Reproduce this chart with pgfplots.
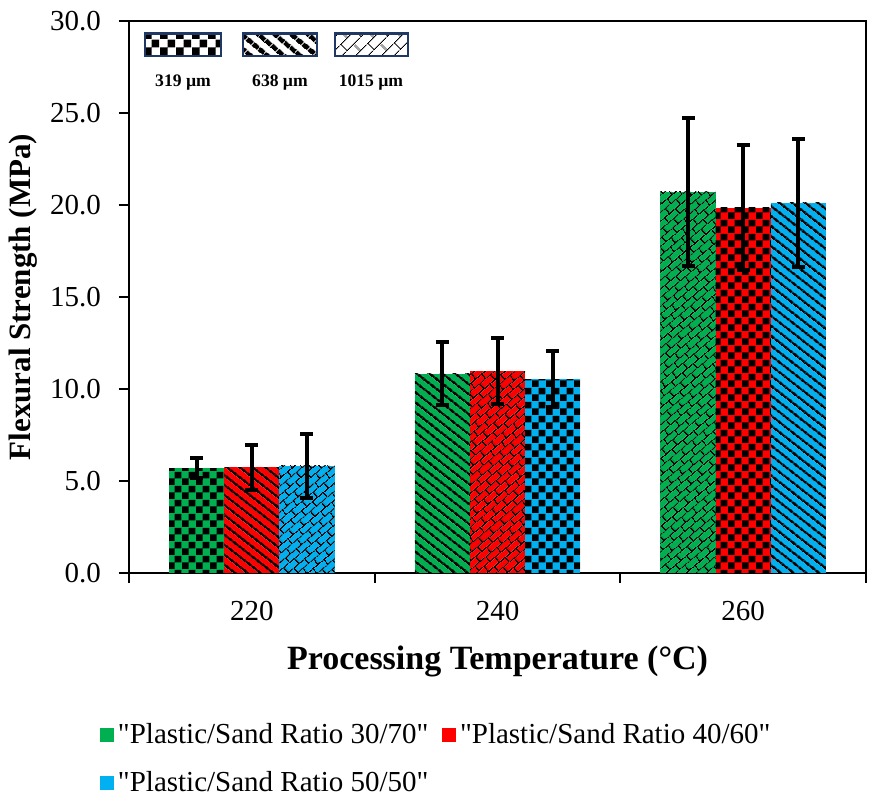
\documentclass[border=0pt]{standalone}
\usepackage{fontspec}
\setmainfont{Liberation Serif}
\usepackage{pgfplots}
\pgfplotsset{compat=1.18}
\usetikzlibrary{patterns.meta}

\definecolor{cg}{HTML}{00B050}
\definecolor{cr}{HTML}{FF0000}
\definecolor{cb}{HTML}{00B0F0}
\definecolor{navy}{HTML}{1F3864}

% bar patterns
\pgfdeclarepattern{name=chk, type=uncolored,
  bottom left={\pgfpoint{0pt}{0pt}}, top right={\pgfpoint{7pt}{7pt}},
  tile size={\pgfpoint{7pt}{7pt}},
  code={\pgfpathrectangle{\pgfpoint{0pt}{0pt}}{\pgfpoint{3.5pt}{3.5pt}}%
        \pgfpathrectangle{\pgfpoint{3.5pt}{3.5pt}}{\pgfpoint{3.5pt}{3.5pt}}%
        \pgfusepath{fill}}}
\pgfdeclarepattern{name=stp, type=uncolored,
  bottom left={\pgfpoint{0pt}{0pt}}, top right={\pgfpoint{4pt}{4pt}},
  tile size={\pgfpoint{4pt}{4pt}},
  tile transformation={\pgftransformrotate{-38}},
  code={\pgfpathrectangle{\pgfpoint{0pt}{0pt}}{\pgfpoint{4pt}{1.5pt}}%
        \pgfusepath{fill}}}
\pgfdeclarepattern{name=brk, type=uncolored,
  bottom left={\pgfpoint{0pt}{0pt}}, top right={\pgfpoint{7pt}{6.4pt}},
  tile size={\pgfpoint{7pt}{6.4pt}},
  tile transformation={\pgftransformrotate{40}},
  code={\pgfpathrectangle{\pgfpoint{0pt}{0pt}}{\pgfpoint{7pt}{0.65pt}}%
        \pgfpathrectangle{\pgfpoint{0pt}{3.2pt}}{\pgfpoint{7pt}{0.65pt}}%
        \pgfpathrectangle{\pgfpoint{0pt}{0pt}}{\pgfpoint{0.65pt}{3.2pt}}%
        \pgfpathrectangle{\pgfpoint{3.5pt}{3.2pt}}{\pgfpoint{0.65pt}{3.2pt}}%
        \pgfusepath{fill}}}
% legend-box patterns (larger)
\pgfdeclarepattern{name=chkL, type=uncolored,
  bottom left={\pgfpoint{0pt}{0pt}}, top right={\pgfpoint{8pt}{8pt}},
  tile size={\pgfpoint{8pt}{8pt}},
  code={\pgfpathrectangle{\pgfpoint{0pt}{0pt}}{\pgfpoint{4pt}{4pt}}%
        \pgfpathrectangle{\pgfpoint{4pt}{4pt}}{\pgfpoint{4pt}{4pt}}%
        \pgfusepath{fill}}}
\pgfdeclarepattern{name=stpL, type=uncolored,
  bottom left={\pgfpoint{0pt}{0pt}}, top right={\pgfpoint{4pt}{5.4pt}},
  tile size={\pgfpoint{4pt}{5.4pt}},
  tile transformation={\pgftransformrotate{-40}},
  code={\pgfpathrectangle{\pgfpoint{0pt}{0pt}}{\pgfpoint{4pt}{2.6pt}}%
        \pgfusepath{fill}}}
\pgfdeclarepattern{name=brkL, type=uncolored,
  bottom left={\pgfpoint{0pt}{0pt}}, top right={\pgfpoint{10pt}{9pt}},
  tile size={\pgfpoint{10pt}{9pt}},
  tile transformation={\pgftransformrotate{45}},
  code={\pgfpathrectangle{\pgfpoint{0pt}{0pt}}{\pgfpoint{10pt}{0.5pt}}%
        \pgfpathrectangle{\pgfpoint{0pt}{4.5pt}}{\pgfpoint{10pt}{0.5pt}}%
        \pgfpathrectangle{\pgfpoint{0pt}{0pt}}{\pgfpoint{0.5pt}{4.5pt}}%
        \pgfpathrectangle{\pgfpoint{5pt}{4.5pt}}{\pgfpoint{0.5pt}{4.5pt}}%
        \pgfusepath{fill}}}

\pgfplotsset{
  mybar/.style 2 args={ybar, forget plot, bar width=0.2245, bar shift=0,
    draw=none, fill=#1, postaction={pattern=#2, pattern color=black},
    /pgfplots/error bars/y dir=both, /pgfplots/error bars/y explicit,
    /pgfplots/error bars/error bar style={line width=2pt, black},
    /pgfplots/error bars/error mark options={line width=2pt, black, mark size=3.25pt, rotate=90}},
}

\newcommand{\lbox}[3]{%
  \fill[white] (rel axis cs:#1,0.9366) rectangle (rel axis cs:#2,0.978);
  \path[pattern=#3, pattern color=black] (rel axis cs:#1,0.9366) rectangle (rel axis cs:#2,0.978);
  \draw[navy, line width=1.4pt] (rel axis cs:#1,0.9366) rectangle (rel axis cs:#2,0.978);
}

\begin{document}
\begin{tikzpicture}
\path[use as bounding box] (-64.5pt,-117pt) rectangle (374pt,286.5pt);
\begin{axis}[
  at={(0pt,0pt)}, anchor=south west,
  scale only axis, width=368.5pt, height=276pt,
  xmin=-0.5, xmax=2.5, ymin=0, ymax=30,
  xtick={-0.5,0.5,1.5,2.5}, x tick label as interval, xticklabels={220,240,260},
  ytick={0,5,10,15,20,25,30},
  tick align=outside, xtick pos=bottom, ytick pos=left,
  major tick length=5pt,
  axis line style={line width=1.1pt},
  every tick/.style={line width=1.1pt, black},
  yticklabel style={xshift=-5.5pt, /pgf/number format/.cd, fixed, fixed zerofill, precision=1},
  xticklabel style={yshift=-5.5pt},
  /pgf/number format/assume math mode=true,
  tick label style={font=\fontsize{14.5}{17}\selectfont},
  xlabel={Processing Temperature (°C)},
  ylabel={Flexural Strength (MPa)},
  every axis x label/.style={at={(rel axis cs:0.5,0)}, yshift=-44pt, anchor=center,
     font=\bfseries\fontsize{17}{19}\selectfont},
  every axis y label/.style={at={(rel axis cs:0,0.5)}, xshift=-53pt, rotate=90, anchor=center,
     font=\bfseries\fontsize{15.5}{18}\selectfont},
  legend style={at={(rel axis cs:0,0)}, anchor=north west, xshift=-17.5pt, yshift=-71pt,
     draw=none, fill=none, font=\fontsize{14.5}{17}\selectfont,
     /tikz/every even column/.append style={column sep=5pt}, row sep=8.5pt},
  legend columns=2,
  legend cell align=left,
  legend image code/.code={\fill[#1] (0pt,-3.4pt) rectangle (6.8pt,3.4pt);},
]
% 220
\addplot[mybar={cg}{chk}] coordinates {(-0.2245,5.70) +- (0,0.54)};
\addplot[mybar={cr}{stp}] coordinates {(0,5.75) +- (0,1.22)};
\addplot[mybar={cb}{brk}] coordinates {(0.2245,5.82) +- (0,1.72)};
% 240
\addplot[mybar={cg}{stp}] coordinates {(0.7755,10.83) +- (0,1.70)};
\addplot[mybar={cr}{brk}] coordinates {(1,10.97) +- (0,1.80)};
\addplot[mybar={cb}{chk}] coordinates {(1.2245,10.54) +- (0,1.50)};
% 260
\addplot[mybar={cg}{brk}] coordinates {(1.7755,20.71) +- (0,4.00)};
\addplot[mybar={cr}{chk}] coordinates {(2,19.84) +- (0,3.40)};
\addplot[mybar={cb}{stp}] coordinates {(2.2245,20.11) +- (0,3.50)};

\addlegendimage{fill=cg, draw=none}
\addlegendentry{\textquotedbl Plastic/Sand Ratio 30/70\textquotedbl}
\addlegendimage{fill=cr, draw=none}
\addlegendentry{\textquotedbl Plastic/Sand Ratio 40/60\textquotedbl}
\addlegendimage{fill=cb, draw=none}
\addlegendentry{\textquotedbl Plastic/Sand Ratio 50/50\textquotedbl}

\lbox{0.0217}{0.1248}{chkL}
\lbox{0.1547}{0.2551}{stpL}
\lbox{0.2795}{0.3786}{brkL}
\node[font=\bfseries\fontsize{8.8}{10}\selectfont] at (rel axis cs:0.0733,0.8877) {319 µm};
\node[font=\bfseries\fontsize{8.8}{10}\selectfont] at (rel axis cs:0.2049,0.8877) {638 µm};
\node[font=\bfseries\fontsize{8.8}{10}\selectfont] at (rel axis cs:0.3283,0.8877) {1015 µm};
\end{axis}
\end{tikzpicture}
\end{document}
